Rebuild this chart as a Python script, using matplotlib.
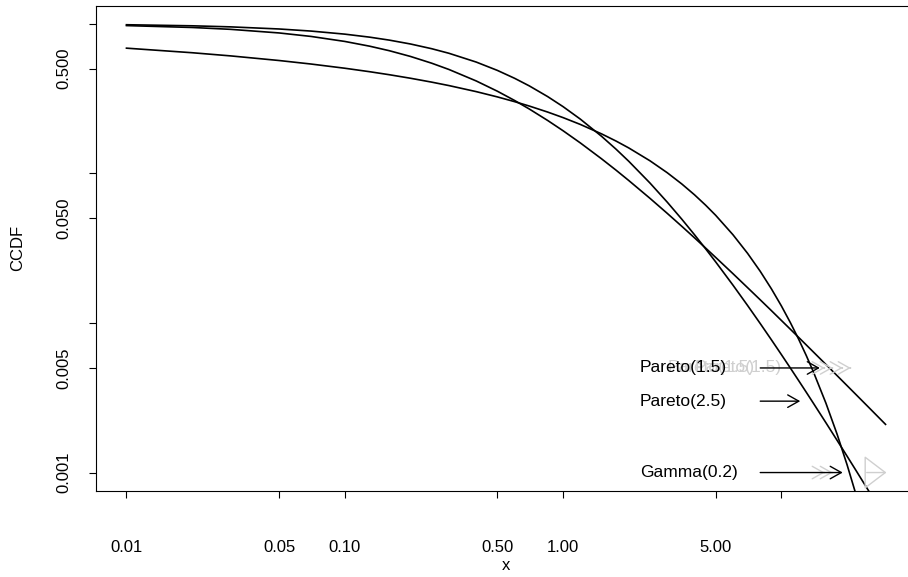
import numpy as np
import matplotlib
matplotlib.use("Agg")
import matplotlib.pyplot as plt
from matplotlib.ticker import FixedLocator, FixedFormatter, NullLocator

plt.rcParams["font.family"] = ["Liberation Sans", "DejaVu Sans"]

# Complementary CDFs evaluated on a common grid of x values
x = [0.01, 0.02, 0.03, 0.05, 0.07, 0.1, 0.13, 0.16, 0.2, 0.25, 0.3, 0.4,
     0.5, 0.6, 0.7, 0.85, 1, 1.2, 1.5, 1.75, 2, 2.5, 3, 3.5, 4, 4.5, 5,
     6, 7, 8, 9, 10, 11, 12, 13, 14, 16, 18, 20, 22, 25, 30]
ccdf_pareto15 = [0.9707, 0.9429, 0.9163, 0.8668, 0.8216, 0.7607, 0.7070,
                 0.6594, 0.6037, 0.5443, 0.4941, 0.4141, 0.3536, 0.3065,
                 0.2690, 0.2254, 0.19245, 0.1595, 0.125, 0.1048, 0.08944,
                 0.06804, 0.05399, 0.04419, 0.03704, 0.03162, 0.02741,
                 0.02134, 0.01721, 0.01427, 0.01208, 0.01039, 0.009066,
                 0.008, 0.007128, 0.006403, 0.005275, 0.004443, 0.003809,
                 0.003313, 0.002746, 0.002099]
ccdf_pareto25 = [0.98353, 0.96743, 0.95170, 0.92130, 0.89223, 0.85099,
                 0.81238, 0.77617, 0.73131, 0.68019, 0.63394, 0.55379,
                 0.48714, 0.43120, 0.38386, 0.32551, 0.27886, 0.23005,
                 0.17678, 0.14472, 0.12024, 0.08612, 0.06415, 0.04930,
                 0.038843, 0.03125, 0.025582, 0.017889, 0.013082, 0.009906,
                 0.007714, 0.006144, 0.004988, 0.004115, 0.003442, 0.002913,
                 0.002151, 0.001641, 0.001286, 0.001029, 0.000762, 0.000495]
ccdf_gamma02 = [0.68586, 0.63925, 0.60891, 0.56713, 0.53731, 0.50360,
                0.47736, 0.45574, 0.43165, 0.40668, 0.38565, 0.35138,
                0.32395, 0.30109, 0.28149, 0.25655, 0.23556, 0.21203,
                0.18346, 0.16410, 0.14767, 0.12123, 0.10088, 0.08478,
                0.07180, 0.06117, 0.05239, 0.03885, 0.02918, 0.02213,
                0.01690, 0.01299, 0.01003, 0.007779, 0.006056, 0.004729,
                0.002907, 0.001803, 0.001126, 0.000708, 0.000356, 0.000115]

x_ticks = [0.01, 0.05, 0.1, 0.5, 1, 5, 10]
x_tick_labels = ["0.01", "0.05", "0.10", "0.50", "1.00", "5.00", ""]
y_ticks = [0.001, 0.005, 0.01, 0.05, 0.1, 0.5, 1]
y_tick_labels = ["0.001", "0.005", "", "0.050", "", "0.500", ""]
y_range = [0.001, 1]

# Labels with arrows pointing at the curves
labels = ["Pareto(1.5)", "Pareto(2.5)", "Gamma(0.2)"]
label_y = [0.005, 0.003, 0.001]
label_x = 2.25
arrow_tail = 8
arrow_tip = [15.0, 12.2, 19.1]

# faint leftover marks from earlier label placements
ghost_text_x = [3.0, 4.0]
ghost_heads_top = [15.8, 17.2, 19.1, 20.8]
ghost_heads_bottom = [15.8, 17.2]
ghost_triangle = (24.6, 30.3)
ghost_color = "#cfcfcf"

W, H = 908, 577
fig = plt.figure(figsize=(W / 100, H / 100), dpi=100)
left_px, right_px, top_px, bottom_px = 96.1, 915.9, 5.7, 490.5
ax = fig.add_axes([left_px / W, 1 - bottom_px / H,
                   (right_px - left_px) / W, (bottom_px - top_px) / H])

for series in (ccdf_pareto15, ccdf_pareto25, ccdf_gamma02):
    ax.plot(x, series, color="black", lw=1.2, solid_joinstyle="round")

ax.set_xscale("log")
ax.set_yscale("log")
lx = np.log10([min(x), max(x)])
px = 0.04 * (lx[1] - lx[0])
ax.set_xlim(10 ** (lx[0] - px), 10 ** (lx[1] + px))
ly = np.log10(y_range)
py = 0.04 * (ly[1] - ly[0])
ax.set_ylim(10 ** (ly[0] - py), 10 ** (ly[1] + py))

ax.xaxis.set_major_locator(FixedLocator(x_ticks))
ax.xaxis.set_major_formatter(FixedFormatter(x_tick_labels))
ax.xaxis.set_minor_locator(NullLocator())
ax.yaxis.set_major_locator(FixedLocator(y_ticks))
ax.yaxis.set_major_formatter(FixedFormatter(y_tick_labels))
ax.yaxis.set_minor_locator(NullLocator())

ax.tick_params(axis="both", direction="out", length=5, width=0.8,
               labelsize=12, color="black")
ax.tick_params(axis="x", pad=31)
ax.tick_params(axis="y", pad=13)
for lab in ax.get_yticklabels():
    lab.set_rotation(90)
    lab.set_va("center")
for sp in ax.spines.values():
    sp.set_linewidth(0.8)
    sp.set_color("black")

fig.text(506 / W, 1 - 565 / H, "x", ha="center", va="center", fontsize=12)
fig.text(18 / W, 1 - 248 / H, "CCDF", ha="center", va="center",
         rotation=90, fontsize=12)

head = "->,head_length=0.8,head_width=0.45"

# ghost labels and arrowheads
for gx in ghost_text_x:
    ax.text(gx, label_y[0], labels[0], color=ghost_color, fontsize=12.5,
            ha="left", va="center")
for gx in ghost_heads_top:
    ax.annotate("", xy=(gx, label_y[0]), xytext=(gx * 0.995, label_y[0]),
                arrowprops=dict(arrowstyle=head, color=ghost_color, lw=1.0,
                                shrinkA=0, shrinkB=0, mutation_scale=10))
for gx in ghost_heads_bottom:
    ax.annotate("", xy=(gx, label_y[2]), xytext=(gx * 0.995, label_y[2]),
                arrowprops=dict(arrowstyle=head, color=ghost_color, lw=1.0,
                                shrinkA=0, shrinkB=0, mutation_scale=10))
tb, tt = ghost_triangle
ax.annotate("", xy=(tt, label_y[2]), xytext=(tb, label_y[2]),
            arrowprops=dict(arrowstyle="-|>,head_length=1.45,head_width=1.1",
                            fc="none", ec=ghost_color, lw=1.0, shrinkA=0,
                            shrinkB=0, mutation_scale=10))

for lab, ly_, tip in zip(labels, label_y, arrow_tip):
    ax.text(label_x, ly_, lab, fontsize=12.5, ha="left", va="center",
            color="black")
    ax.annotate("", xy=(tip, ly_), xytext=(arrow_tail, ly_),
                arrowprops=dict(arrowstyle=head, color="black", lw=1.0,
                                shrinkA=0, shrinkB=0, mutation_scale=10))

fig.savefig("out.png", dpi=100)
